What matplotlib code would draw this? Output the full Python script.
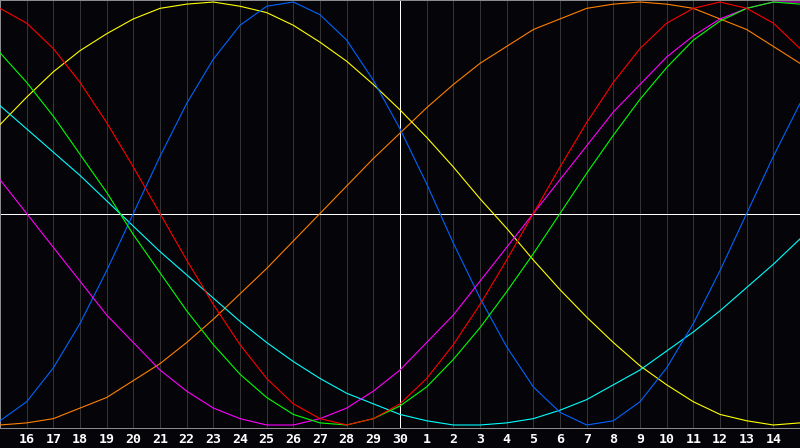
from matplotlib import pyplot as plt

# day numbers under the grid (today = 30, in the middle)
day_labels = [str(d) for d in range(16, 31)] + [str(d) for d in range(1, 15)]

# one value per day, from the 15th to the 15th of next month
physical = [-0.98, -0.89, -0.73, -0.52, -0.27, 0.00, 0.27, 0.52, 0.73, 0.89, 0.98,
            1.00, 0.94, 0.82, 0.63, 0.40, 0.14, -0.14, -0.40, -0.63, -0.82, -0.94,
            -1.00, -0.98, -0.89, -0.73, -0.52, -0.27, 0.00, 0.27, 0.52]
emotional = [0.97, 0.90, 0.78, 0.62, 0.43, 0.22, 0.00, -0.22, -0.43, -0.62, -0.78,
             -0.90, -0.97, -1.00, -0.97, -0.90, -0.78, -0.62, -0.43, -0.22, 0.00, 0.22,
             0.43, 0.62, 0.78, 0.90, 0.97, 1.00, 0.97, 0.90, 0.78]
intellectual = [0.76, 0.62, 0.46, 0.28, 0.10, -0.10, -0.28, -0.46, -0.62, -0.76, -0.87,
                -0.95, -0.99, -1.00, -0.97, -0.91, -0.82, -0.69, -0.54, -0.37, -0.19, 0.00,
                0.19, 0.37, 0.54, 0.69, 0.82, 0.91, 0.97, 1.00, 0.99]
intuitive = [0.16, 0.00, -0.16, -0.32, -0.48, -0.61, -0.74, -0.84, -0.92, -0.97, -1.00,
             -1.00, -0.97, -0.92, -0.84, -0.74, -0.61, -0.48, -0.32, -0.16, 0.00, 0.16,
             0.32, 0.48, 0.61, 0.74, 0.84, 0.92, 0.97, 1.00, 1.00]
aesthetic = [0.42, 0.55, 0.67, 0.77, 0.85, 0.92, 0.97, 0.99, 1.00, 0.98, 0.95,
             0.89, 0.81, 0.72, 0.61, 0.49, 0.36, 0.22, 0.07, -0.07, -0.22, -0.36,
             -0.49, -0.61, -0.72, -0.81, -0.89, -0.95, -0.98, -1.00, -0.99]
awareness = [-1.00, -0.99, -0.97, -0.92, -0.87, -0.79, -0.71, -0.61, -0.50, -0.38, -0.26,
             -0.13, 0.00, 0.13, 0.26, 0.38, 0.50, 0.61, 0.71, 0.79, 0.87, 0.92,
             0.97, 0.99, 1.00, 0.99, 0.97, 0.92, 0.87, 0.79, 0.71]
spiritual = [0.51, 0.40, 0.29, 0.18, 0.06, -0.06, -0.18, -0.29, -0.40, -0.51, -0.61,
             -0.70, -0.78, -0.85, -0.90, -0.95, -0.98, -1.00, -1.00, -0.99, -0.97, -0.93,
             -0.88, -0.81, -0.74, -0.65, -0.56, -0.46, -0.35, -0.24, -0.12]

bg = '#050408'
px = 0.72  # one pixel at dpi 100
fig = plt.figure(figsize=(8, 4.48), dpi=100, facecolor=bg)
ax = fig.add_axes([0, 20 / 448, 1, 428 / 448], facecolor=bg)

x = range(len(physical))
ax.set_xlim(0, len(physical) - 1)
ax.set_ylim(-1.0142, 1.0095)

# day grid
for i in range(1, len(physical) - 1):
    ax.axvline(i, color='#343434', lw=px, antialiased=False, zorder=1)
ax.axvline(15, color='white', lw=px, antialiased=False, zorder=2)
ax.axhline(0, color='white', lw=px, antialiased=False, zorder=2)

series = [(awareness, '#ff8000'), (aesthetic, '#ffff00'), (spiritual, '#00ffff'),
          (physical, '#0064ff'), (intuitive, '#ff00ff'), (intellectual, '#00ff00'),
          (emotional, '#ff0000')]
for vals, col in series:
    ax.plot(x, vals, color=col, lw=0.8, antialiased=True, zorder=3)

ax.set_xticks(range(1, len(physical) - 1), day_labels)
ax.tick_params(axis='x', length=0, pad=3.5, colors='white', labelsize=9.5)
for lab in ax.get_xticklabels():
    lab.set_fontfamily('DejaVu Sans Mono')
    lab.set_fontweight('bold')
ax.set_yticks([])
for s in ax.spines.values():
    s.set_color('#8c8c8c')
    s.set_linewidth(px)

fig.savefig('out.png', dpi=100, facecolor=bg)
